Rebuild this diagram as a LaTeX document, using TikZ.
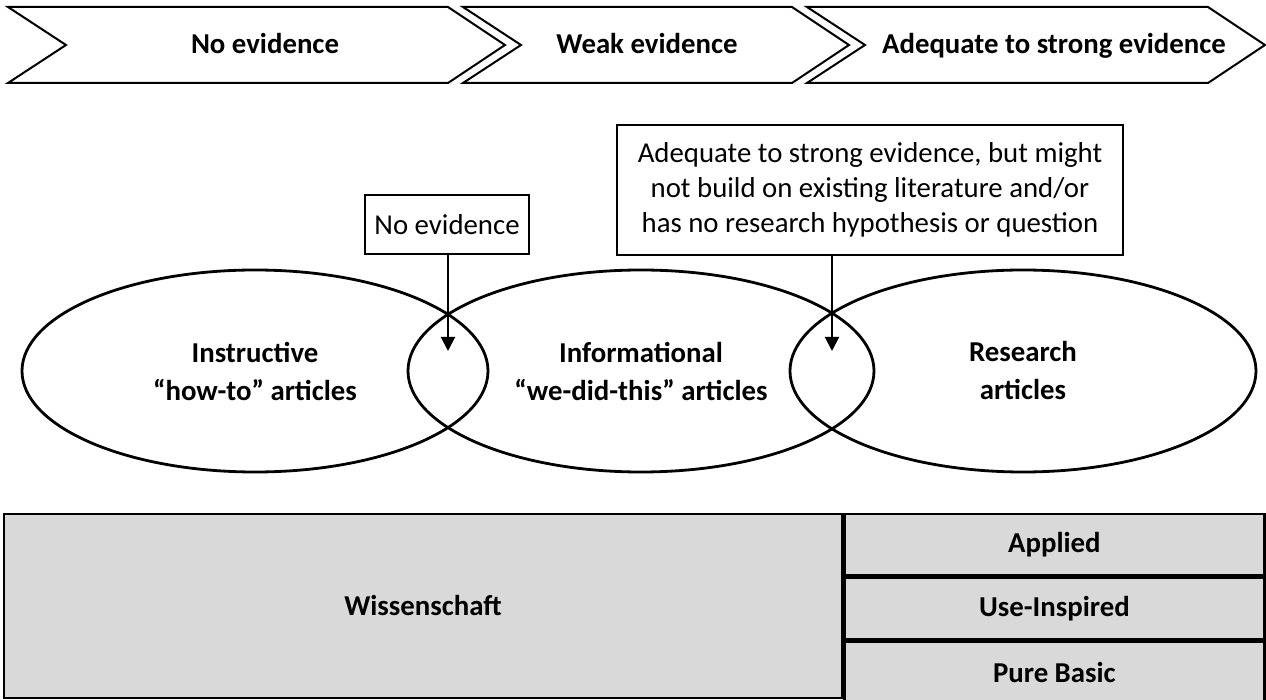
\documentclass[tikz,border=0pt]{standalone}
\usepackage{fontspec}
\setmainfont{Carlito}
\usetikzlibrary{arrows.meta,positioning,shapes.geometric}
\definecolor{cellgray}{RGB}{217,217,217}
% one chevron of the evidence bar: left edge, start of the point
\newcommand{\evchevron}[2]{%
  \draw[chevline] (#1,7) -- (#2,7) -- ++(57,38) -- ++(-57,38) -- (#1,83) -- ++(58,-38) -- cycle;}

\begin{document}
\begin{tikzpicture}[x=0.5pt, y=-0.5pt, >={Triangle[length=7pt,width=7pt]},
    every node/.style={font=\fontsize{14.4}{17.5}\selectfont},
    stagetext/.style={anchor=base, font=\fontsize{14.4}{17.5}\selectfont\bfseries},
    chevline/.style={line width=1pt, line join=miter},
    notebox/.style={draw, line width=0.9pt, align=center, inner sep=0pt},
    kindellipse/.style={draw, ellipse, line width=1.4pt, minimum width=233pt,
      minimum height=101pt, inner sep=0pt, align=center,
      font=\fontsize{14.4}{19}\selectfont\bfseries},
    cell/.style={draw, line width=1.2pt, fill=cellgray, inner sep=0pt,
      font=\fontsize{14.4}{17.5}\selectfont\bfseries},
    rightcell/.style={cell, minimum width=210pt, minimum height=30.7pt}]
    \useasboundingbox (0,0) rectangle (1266,700);
    % --- evidence chevrons ---
    \evchevron{8}{448}
    \evchevron{463}{792}
    \evchevron{807}{1208}
    \node[stagetext] (noev) at (265,54) {No evidence};
    \node[stagetext] (weakev) at (647,54) {Weak evidence};
    \node[stagetext] (strongev) at (1054,54) {Adequate to strong evidence};
    % --- article kinds ---
    \node[kindellipse] (howto) at (255,371) {Instructive\\“how-to” articles};
    \node[kindellipse] (wedid) at (641,371) {Informational\\“we-did-this” articles};
    \node[kindellipse] (research) at (1023,371) {Research\\articles};
    % --- notes on the overlaps ---
    \node[notebox, minimum width=82pt, minimum height=29.5pt] (noevnote)
      at (447,224.5) {No evidence};
    \node[notebox, minimum width=253pt, minimum height=65pt] (butnote)
      at (870,190) {Adequate to strong evidence, but might\\
      not build on existing literature and/or\\
      has no research hypothesis or question};
    \coordinate (tipA) at (448,351);
    \coordinate (tipB) at (832,351);
    \draw[->, line width=1pt] (noevnote.south -| tipA) -- (tipA);
    \draw[->, line width=1pt] (butnote.south -| tipB) -- (tipB);
    % --- table ---
    \node[cell, minimum width=419pt, minimum height=92pt] (wiss) at (423,606) {Wissenschaft};
    \node[rightcell, anchor=north west] (applied) at (wiss.north east) {Applied};
    \node[rightcell, below=0pt of applied] (useinsp) {Use-Inspired};
    \node[rightcell, below=0pt of useinsp] (purebasic) {Pure Basic};
\end{tikzpicture}
\end{document}
